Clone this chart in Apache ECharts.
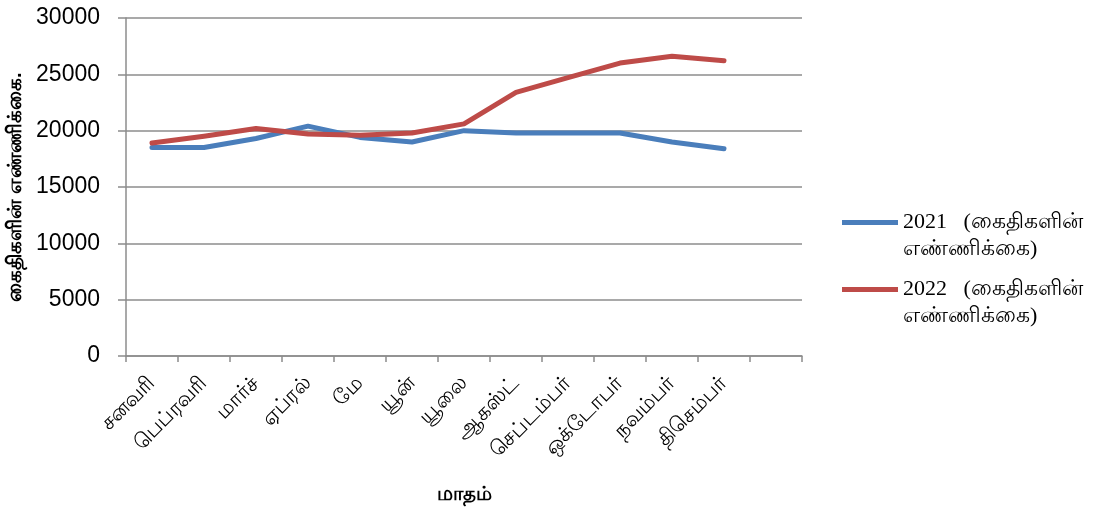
<!DOCTYPE html>
<html>
<head>
<meta charset="utf-8">
<script src="https://cdn.jsdelivr.net/npm/echarts@6/dist/echarts.min.js"></script>
<style>html,body{margin:0;padding:0;background:#fff}#c{width:1105px;height:508px}</style>
</head>
<body>
<div id="c"></div>
<script>
const months = ['சனவரி','பெப்ரவரி','மார்ச்','ஏப்ரல்','மே','யூன்','யூலை','ஆகஸ்ட்','செப்டம்பர்','ஒக்டோபர்','நவம்பர்','திசெம்பர்'];
const axisCategories = months.concat(['']);
const series2021 = [18500, 18500, 19300, 20400, 19400, 19000, 20000, 19800, 19800, 19800, 19000, 18400];
const series2022 = [18900, 19500, 20200, 19700, 19600, 19800, 20600, 23400, 24700, 26000, 26600, 26200];
const name2021 = '2021   (கைதிகளின்\nஎண்ணிக்கை)';
const name2022 = '2022   (கைதிகளின்\nஎண்ணிக்கை)';
const yTicks = {min: 0, max: 30000, interval: 5000};

const chart = echarts.init(document.getElementById('c'));
chart.setOption({
  animation: false,
  backgroundColor: '#fff',
  grid: {left: 126, right: 303, top: 18, bottom: 152, containLabel: false, outerBoundsMode: 'none'},
  legend: {
    orient: 'vertical',
    left: 837,
    top: 204,
    itemWidth: 56,
    itemHeight: 32,
    itemGap: 13,
    icon: 'path://M0 0h56v5h-56z M0 31.9h0.1v0.1h-0.1z',
    itemStyle: {borderWidth: 0},
    lineStyle: {width: 0},
    data: [name2021, name2022],
    textStyle: {fontFamily: 'Liberation Serif', fontSize: 22, color: '#000', lineHeight: 27}
  },
  xAxis: {
    type: 'category',
    data: axisCategories,
    boundaryGap: true,
    name: 'மாதம்',
    nameLocation: 'middle',
    nameGap: 128,
    nameTextStyle: {fontSize: 20, fontWeight: 'bold', color: '#000'},
    axisLine: {lineStyle: {color: '#8c8c8c', width: 1.5}},
    axisTick: {show: true, interval: 0, length: 6, lineStyle: {color: '#8c8c8c', width: 1.5}},
    axisLabel: {interval: 0, rotate: 45, fontSize: 21, color: '#000', margin: 24}
  },
  yAxis: {
    type: 'value',
    min: yTicks.min, max: yTicks.max, interval: yTicks.interval,
    name: 'கைதிகளின் எண்ணிக்கை.',
    nameLocation: 'middle',
    nameGap: 100,
    nameTextStyle: {fontSize: 20, fontWeight: 'bold', color: '#000'},
    axisLine: {show: true, lineStyle: {color: '#8c8c8c', width: 1.5}},
    axisTick: {show: true, length: 8, lineStyle: {color: '#8c8c8c', width: 1.5}},
    axisLabel: {fontFamily: 'Liberation Sans', fontSize: 23, color: '#000', margin: 26, formatter: v => String(v)},
    splitLine: {lineStyle: {color: '#8c8c8c', width: 1.5}}
  },
  series: [
    {name: name2021, type: 'line', data: series2021, showSymbol: false, symbol: 'none',
     lineStyle: {color: '#4a7ebb', width: 5, cap: 'round', join: 'round'}, itemStyle: {color: '#4a7ebb'}},
    {name: name2022, type: 'line', data: series2022, showSymbol: false, symbol: 'none',
     lineStyle: {color: '#be4b48', width: 5, cap: 'round', join: 'round'}, itemStyle: {color: '#be4b48'}}
  ]
});
</script>
</body>
</html>
